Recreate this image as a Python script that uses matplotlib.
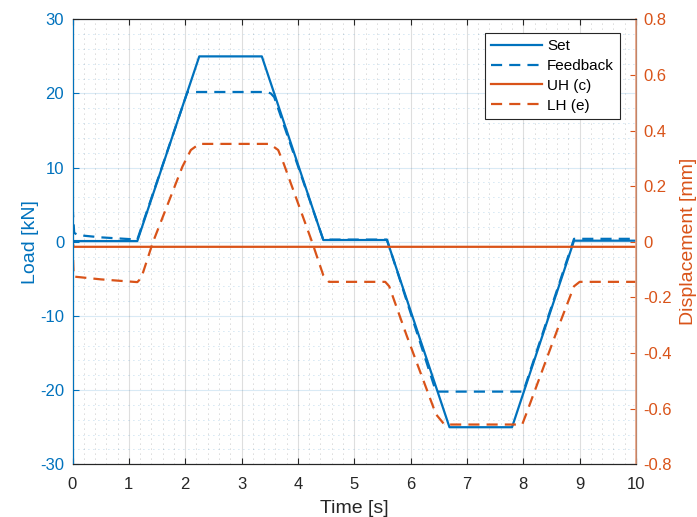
import matplotlib
matplotlib.use("Agg")
import matplotlib.pyplot as plt
import numpy as np

plt.rcParams['font.family'] = ['Liberation Sans', 'DejaVu Sans']
plt.rcParams['axes.unicode_minus'] = False

BLUE = '#0072BD'
ORANGE = '#D95319'

# Set load [kN]
t_set = [0, 1.15, 2.25, 3.36, 4.45, 5.58, 6.69, 7.8, 8.9, 10]
v_set = [0.1, 0.1, 25, 25, 0.24, 0.24, -25, -25, 0.15, 0.15]

# Feedback load [kN]
t_fb = [0, 0.03, 0.1, 0.5, 1.15, 2.04, 3.45, 3.52, 3.58, 4.45, 5.58,
        6.45, 8.0, 8.9, 10]
v_fb = [4.8, 1.2, 0.9, 0.6, 0.3, 20.2, 20.2, 20.0, 19.5, 0.3, 0.3,
        -20.2, -20.2, 0.4, 0.4]

# UH (c) displacement [mm]
t_uh = [0, 0.02, 10]
v_uh = [0, -0.018, -0.018]

# LH (e) displacement [mm]
t_lh = [0, 0.02, 0.5, 1.15, 1.22, 1.43, 1.95, 2.1, 2.25, 3.5, 3.65, 3.75,
        4.25, 4.45, 4.55, 5.55, 5.62, 5.93, 6.45, 6.6, 7.98, 8.05, 8.61,
        8.9, 9.0, 10]
v_lh = [0, -0.125, -0.135, -0.145, -0.13, 0, 0.27, 0.33, 0.352, 0.352,
        0.33, 0.28, 0, -0.12, -0.144, -0.144, -0.16, -0.337, -0.62,
        -0.657, -0.657, -0.62, -0.313, -0.16, -0.144, -0.144]


def main():
    fig = plt.figure(figsize=(6.97, 5.17), dpi=100)
    ax = fig.add_axes([72.5 / 697, 1 - 464.3 / 517, (636 - 72.5) / 697,
                       (464.3 - 19.3) / 517])
    ax2 = ax.twinx()

    dash = (0, (5, 3.2))
    l1, = ax.plot(t_set, v_set, color=BLUE, lw=1.6, label='Set')
    l2, = ax.plot(t_fb, v_fb, color=BLUE, lw=1.6, ls=dash, label='Feedback')
    l3, = ax2.plot(t_uh, v_uh, color=ORANGE, lw=1.6, label='UH (c)')
    l4, = ax2.plot(t_lh, v_lh, color=ORANGE, lw=1.6, ls=dash, label='LH (e)')

    ax.set_xlim(0, 10)
    ax.set_ylim(-30, 30)
    ax2.set_ylim(-0.8, 0.8)
    ax.set_xticks(np.arange(0, 11, 1))
    ax.set_yticks(np.arange(-30, 31, 10))
    ax2.set_yticks(np.arange(-0.8, 0.81, 0.2))
    ax2.set_yticklabels(['-0.8', '-0.6', '-0.4', '-0.2', '0', '0.2', '0.4',
                         '0.6', '0.8'])
    ax.set_xticks(np.arange(0, 10.01, 0.2), minor=True)
    ax.set_yticks(np.arange(-30, 30.01, 2), minor=True)

    ax.grid(True, which='major', axis='x', color='#262626', alpha=0.15, lw=0.8)
    ax.grid(True, which='major', axis='y', color=BLUE, alpha=0.15, lw=0.8)
    ax.grid(True, which='minor', axis='x', color='#262626', alpha=0.35,
            lw=0.6, ls=(0, (1, 5)))
    ax.grid(True, which='minor', axis='y', color=BLUE, alpha=0.35,
            lw=0.6, ls=(0, (1, 5)))
    ax.set_axisbelow(True)

    ax.tick_params(which='major', direction='in', length=4, top=True,
                   labelsize=12, pad=6)
    ax.tick_params(which='minor', length=0)
    ax.tick_params(axis='x', colors='#262626', pad=9)
    ax.tick_params(axis='y', colors=BLUE)
    ax2.tick_params(direction='in', length=4, colors=ORANGE, labelsize=12,
                    pad=5)
    for s in ['top', 'bottom']:
        ax.spines[s].set_color('#262626')
        ax2.spines[s].set_color('#262626')
    ax2.spines['left'].set_color(BLUE)
    ax2.spines['right'].set_color('#E8A080')
    ax2.spines['right'].set_linewidth(1.2)

    ax.set_xlabel('Time [s]', fontsize=14, color='#262626', labelpad=6)
    ax.set_ylabel('Load [kN]', fontsize=14, color=BLUE, labelpad=1)
    ax2.set_ylabel('Displacement [mm]', fontsize=14, color=ORANGE,
                   labelpad=6)

    leg = ax2.legend(handles=[l1, l2, l3, l4], loc='upper right',
                     bbox_to_anchor=(620 / 697, 1 - 33 / 517),
                     bbox_transform=fig.transFigure, fontsize=11,
                     handlelength=3.35, fancybox=False, framealpha=1,
                     edgecolor='#262626', borderpad=0.4, labelspacing=0.38,
                     handletextpad=0.3, borderaxespad=0)
    leg.get_frame().set_linewidth(0.8)

    fig.savefig('out.png', dpi=100)


if __name__ == '__main__':
    main()
